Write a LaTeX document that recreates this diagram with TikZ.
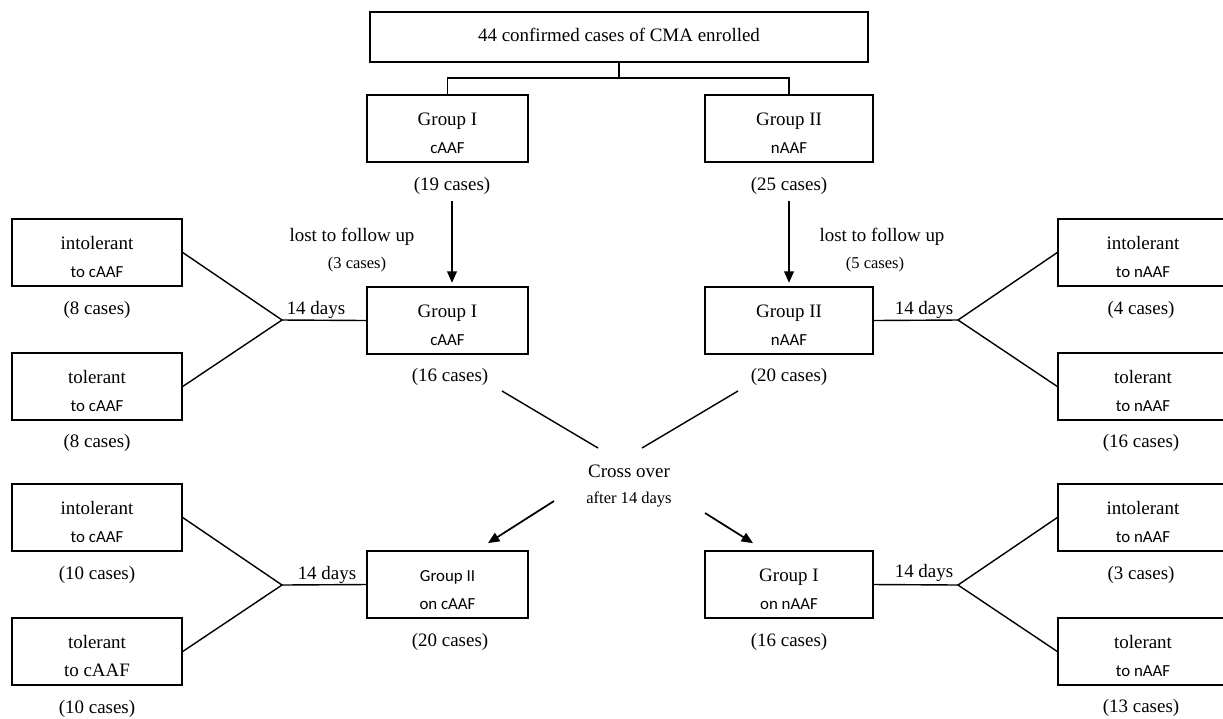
\documentclass[tikz,border=0pt]{standalone}
\usepackage{fontspec}
\setmainfont{Liberation Serif}
\setsansfont{Carlito}
\usetikzlibrary{arrows.meta}
\newcommand\sa{\sffamily\fontsize{9.6}{12}\selectfont}
\newcommand\sm{\fontsize{9.4}{12}\selectfont}
\newcommand\up{\rule{0pt}{13pt}}
\tikzset{
  box/.style={draw,line width=0.8pt,minimum width=3.22cm,minimum height=1.34cm,
    inner sep=0pt,align=center},
  sidebox/.style={box,minimum width=3.4cm},
  link/.style={line width=0.8pt},
  flow/.style={line width=1pt,-{Triangle[length=6.5pt,width=5.5pt]},shorten >=2pt}
}
\begin{document}
\begin{tikzpicture}[x=0.02cm,y=-0.02cm,font=\fontsize{10.8}{13}\selectfont]
  \useasboundingbox (0,0) rectangle (1223,718);
  % enrolment and randomisation
  \node[draw,line width=0.8pt,minimum width=9.96cm,minimum height=1cm] (all) at (619,37)
    {\raisebox{2pt}{44 confirmed cases of CMA enrolled}};
  \node[box] (g1a) at (447.5,128.5) {\up Group I\\[3pt]\sa cAAF};
  \node[box,minimum width=3.36cm] (g2a) at (789,128.5) {\up Group II\\[3pt]\sa nAAF};
  \node (n19) at (452,186) {(19 cases)};
  \node (n25) at (789,186) {(25 cases)};
  \coordinate (split) at (619,78);
  \draw[link] (all.south) -- (split);
  \draw[link] (split) -| (g1a.north);
  \draw[link] (split) -| (g2a.north);
  % first period
  \node[box] (g1b) at (447.5,320.5) {\up Group I\\[3pt]\sa cAAF};
  \node[box,minimum width=3.36cm] (g2b) at (789,320.5) {\up Group II\\[3pt]\sa nAAF};
  \node (n16a) at (450,377) {(16 cases)};
  \node (n20a) at (789,377) {(20 cases)};
  \draw[flow] (n19.south) -- (n19.south |- g1b.north);
  \draw[flow] (n25.south) -- (n25.south |- g2b.north);
  \node (lost1) at (352,237) {lost to follow up};
  \node (lost1n) at (357,265) {\sm (3 cases)};
  \node (lost2) at (882,237) {lost to follow up};
  \node (lost2n) at (875,265) {\sm (5 cases)};
  % outcomes of first period, left
  \node[sidebox] (int1) at (97,252.5) {\up intolerant\\[3pt]\sa to cAAF};
  \node[sidebox] (tol1) at (97,386.5) {\up tolerant\\[3pt]\sa to cAAF};
  \node (n8a) at (97,310) {(8 cases)};
  \node (n8b) at (97,443) {(8 cases)};
  \coordinate (j1) at (282,320);
  \draw[link] (g1b.west) -- (j1);
  \draw[link] (int1.east) -- (j1) -- (tol1.east);
  \node (d1) at (316,310) {14 days};
  % outcomes of first period, right
  \node[sidebox] (int2) at (1143,252.5) {\up intolerant\\[3pt]\sa to nAAF};
  \node[sidebox] (tol2) at (1143,386.5) {\up tolerant\\[3pt]\sa to nAAF};
  \node (n4) at (1141,310) {(4 cases)};
  \node (n16b) at (1141,443) {(16 cases)};
  \coordinate (j2) at (958,320);
  \draw[link] (g2b.east) -- (j2);
  \draw[link] (int2.west) -- (j2) -- (tol2.west);
  \node (d2) at (924,310) {14 days};
  % cross over
  \node[align=center] (cross) at (629,486) {Cross over\\[2pt]\sm after 14 days};
  \coordinate (xa) at (502,391);
  \coordinate (xb) at (598,448);
  \coordinate (xc) at (738,391);
  \coordinate (xd) at (642,448);
  \coordinate (xe) at (554,501);
  \coordinate (xf) at (705,513);
  \draw[link] (xa) -- (xb);
  \draw[link] (xc) -- (xd);
  % second period
  \node[box] (g2c) at (447.5,584.5) {\up\sa Group II\\[3pt]\sa on cAAF};
  \node[box,minimum width=3.36cm] (g1c) at (789,584.5) {\up Group I\\[3pt]\sa on nAAF};
  \node (n20b) at (450,642) {(20 cases)};
  \node (n16c) at (789,642) {(16 cases)};
  \draw[flow] (xe) -- (485,545);
  \draw[flow] (xf) -- (756,545);
  % outcomes of second period, left
  \node[sidebox] (int3) at (97,517.5) {\up intolerant\\[3pt]\sa to cAAF};
  \node[sidebox] (tol3) at (97,651.5) {\up tolerant\\[3pt]to cAAF};
  \node (n10a) at (97,575) {(10 cases)};
  \node (n10b) at (97,709) {(10 cases)};
  \coordinate (j3) at (282,585);
  \draw[link] (g2c.west) -- (j3);
  \draw[link] (int3.east) -- (j3) -- (tol3.east);
  \node (d3) at (327,575) {14 days};
  % outcomes of second period, right
  \node[sidebox] (int4) at (1143,517.5) {\up intolerant\\[3pt]\sa to nAAF};
  \node[sidebox] (tol4) at (1143,651.5) {\up tolerant\\[3pt]\sa to nAAF};
  \node (n3) at (1141,575) {(3 cases)};
  \node (n13) at (1141,708) {(13 cases)};
  \coordinate (j4) at (958,585);
  \draw[link] (g1c.east) -- (j4);
  \draw[link] (int4.west) -- (j4) -- (tol4.west);
  \node (d4) at (924,573) {14 days};
\end{tikzpicture}
\end{document}
